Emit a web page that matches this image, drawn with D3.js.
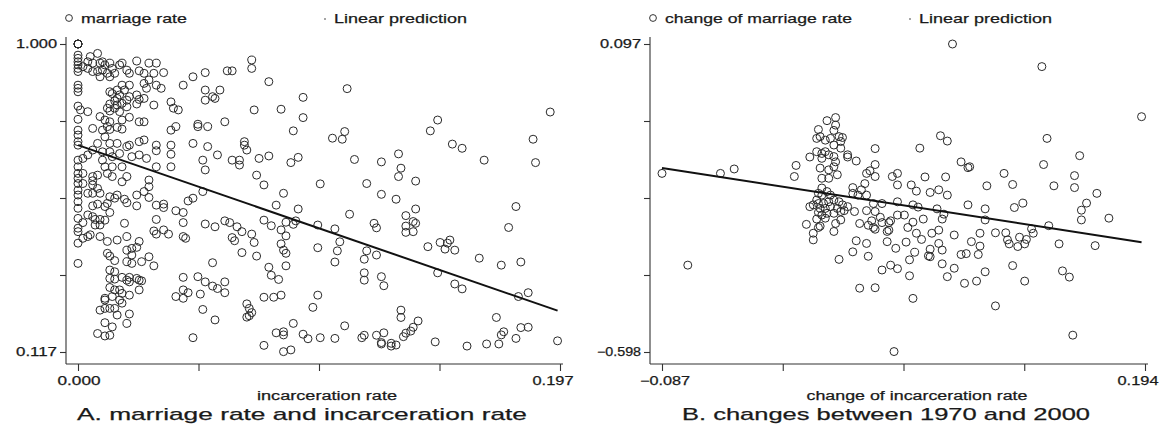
<!DOCTYPE html>
<html>
<head>
<meta charset="utf-8">
<script src="https://cdn.jsdelivr.net/npm/d3@7"></script>
<style>
  body { margin: 0; background: #fff; }
  text { font-family: "Liberation Sans", Arial, sans-serif; fill: #1a1a1a; }
</style>
</head>
<body>
<svg width="1164" height="424"></svg>
<script>
// ---- data ----
// panel A: incarceration rate (x) vs marriage rate (y)
const domainA = { x: [0, 0.197], y: [0.117, 1.000] };
const fitA = { intercept: 0.710, slope: -2.42 };
const pointsA = [
  [0,1],[0,1],[0,1],[0,1],
  [0,0.968],[0,0.959],[0,0.949],[0,0.940],[0,0.930],[0,0.921],[0,0.882],[0,0.873],[0,0.863],[0,0.822],[0,0.784],[0,0.753],[0,0.739],[0,0.720],[0,0.710],[0,0.667],[0,0.648],[0,0.629],[0,0.615],[0,0.600],[0,0.581],[0,0.567],[0,0.548],[0,0.529],[0,0.500],[0,0.472],[0,0.462],[0,0.429],[0,0.371],
  [0.002,0.935],[0.004,0.949],[0.005,0.964],[0.008,0.973],[0.006,0.945],[0.009,0.945],[0.010,0.949],[0.011,0.940],[0.013,0.945],[0.014,0.930],[0.010,0.925],[0.008,0.921],[0.006,0.921],[0.004,0.930],[0.009,0.906],[0.012,0.916],[0.013,0.906],[0.015,0.916],[0.017,0.940],[0.018,0.945],[0.020,0.925],[0.021,0.916],[0.024,0.951],[0.027,0.916],[0.025,0.923],[0.029,0.945],[0.032,0.945],[0.031,0.916],[0.035,0.918],[0.029,0.897],[0.027,0.887],[0.032,0.882],[0.028,0.873],[0.034,0.873],[0.021,0.882],[0.019,0.868],[0.018,0.882],[0.016,0.868],[0.014,0.858],[0.013,0.863],[0.017,0.854],[0.016,0.844],[0.015,0.837],[0.013,0.828],[0.012,0.816],[0.013,0.808],[0.015,0.816],[0.016,0.825],[0.018,0.830],[0.020,0.839],[0.021,0.849],[0.024,0.854],[0.025,0.841],[0.024,0.828],[0.020,0.820],[0.017,0.806],[0.009,0.792],[0.011,0.782],[0.013,0.777],[0.012,0.763],[0.010,0.753],[0.013,0.755],[0.016,0.761],[0.018,0.756],[0.018,0.782],[0.021,0.790],[0.025,0.777],[0.027,0.777],[0.031,0.825],[0.027,0.844],[0.006,0.758],[0.004,0.806],[0.001,0.811],[0.011,0.734],[0.008,0.715],[0.013,0.715],[0.016,0.715],[0.020,0.706],[0.021,0.710],[0.025,0.720],[0.027,0.725],[0.032,0.710],[0.032,0.694],[0.028,0.672],[0.025,0.682],[0.022,0.677],[0.017,0.686],[0.014,0.677],[0.013,0.691],[0.010,0.691],[0.006,0.696],[0.004,0.682],[0.002,0.672],[0.010,0.667],[0.011,0.648],[0.014,0.648],[0.018,0.648],[0.020,0.620],[0.018,0.605],[0.014,0.620],[0.012,0.629],[0.008,0.624],[0.006,0.620],[0.006,0.608],[0.006,0.596],[0.008,0.586],[0.009,0.572],[0.002,0.629],[0.002,0.600],[0.004,0.572],[0.029,0.610],[0.029,0.591],[0.027,0.577],[0.024,0.567],[0.016,0.567],[0.013,0.562],
  [0.038,0.834],[0.039,0.816],[0.041,0.811],[0.038,0.710],[0.038,0.684],[0.038,0.648],[0.032,0.648],[0.047,0.906],[0.052,0.918],[0.061,0.923],[0.063,0.923],[0.071,0.954],[0.071,0.930],[0.043,0.882],[0.052,0.868],[0.052,0.839],[0.055,0.849],[0.056,0.844],[0.058,0.868],[0.040,0.763],[0.047,0.715],[0.049,0.763],[0.049,0.770],[0.053,0.763],[0.053,0.706],[0.057,0.682],[0.060,0.777],[0.051,0.667],[0.052,0.639],[0.063,0.667],[0.066,0.667],[0.066,0.653],[0.068,0.720],[0.068,0.710],[0.069,0.696],[0.072,0.811],[0.074,0.672],[0.073,0.624],[0.051,0.577],[0.047,0.558],[0.038,0.753],
  [0.006,0.572],[0.015,0.558],[0.019,0.555],[0.020,0.545],[0.024,0.536],[0.029,0.560],[0.032,0.538],[0.035,0.541],[0.035,0.531],[0.040,0.522],[0.043,0.517],[0.043,0.488],[0.045,0.550],
  [0.006,0.536],[0.008,0.541],[0.012,0.543],[0.011,0.534],[0.013,0.517],[0.004,0.510],[0.002,0.488],[0.006,0.505],[0.007,0.497],[0.009,0.497],[0.011,0.495],[0.007,0.481],[0.009,0.481],[0.004,0.448],[0.005,0.453],[0.002,0.443],[0.009,0.448],[0.012,0.434],[0.016,0.438],[0.020,0.448],[0.025,0.434],[0.019,0.486],[0.032,0.497],[0.031,0.464],[0.032,0.455],[0.035,0.467],[0.037,0.455],[0.043,0.448],[0.044,0.443],[0.052,0.484],[0.056,0.476],[0.060,0.493],[0.062,0.488],[0.065,0.476],[0.067,0.462],[0.063,0.445],[0.064,0.436],[0.071,0.455],[0.072,0.431],[0.067,0.402],[0.073,0.392],
  [0.012,0.400],[0.013,0.392],[0.015,0.379],[0.020,0.409],[0.022,0.414],[0.024,0.417],[0.022,0.395],[0.020,0.376],[0.022,0.371],[0.026,0.376],[0.029,0.390],[0.031,0.364],
  [0.013,0.352],[0.015,0.347],[0.013,0.328],[0.015,0.326],[0.018,0.331],[0.020,0.323],[0.021,0.331],[0.021,0.318],[0.025,0.323],[0.026,0.321],[0.024,0.328],[0.013,0.302],[0.015,0.295],[0.017,0.295],[0.018,0.285],[0.025,0.295],[0.021,0.280],[0.011,0.271],[0.011,0.266],[0.014,0.276],[0.017,0.266],[0.018,0.257],[0.009,0.237],[0.011,0.242],[0.013,0.242],[0.015,0.242],[0.016,0.223],[0.021,0.226],[0.011,0.201],[0.014,0.189],[0.020,0.199],[0.008,0.170],[0.011,0.163],[0.013,0.165],
  [0.043,0.331],[0.049,0.333],[0.052,0.318],[0.055,0.306],[0.057,0.299],[0.060,0.318],[0.060,0.287],[0.043,0.295],[0.040,0.276],[0.043,0.271],[0.045,0.287],[0.050,0.283],[0.055,0.373],[0.051,0.239],[0.056,0.209],[0.047,0.158],
  [0.069,0.255],[0.070,0.242],[0.071,0.230],[0.070,0.221],[0.069,0.217],
  [0.078,0.892],[0.110,0.872],[0.092,0.847],[0.083,0.813],[0.092,0.789],[0.088,0.751],[0.104,0.730],[0.109,0.749],[0.108,0.727],[0.144,0.751],[0.147,0.782],[0.153,0.713],[0.157,0.701],[0.166,0.667],[0.186,0.727],[0.187,0.660],[0.193,0.805],[0.078,0.679],[0.087,0.660],[0.090,0.675],[0.076,0.596],[0.084,0.572],[0.099,0.599],[0.113,0.669],[0.118,0.600],[0.124,0.662],[0.124,0.569],[0.130,0.555],[0.131,0.685],[0.132,0.644],[0.131,0.620],[0.138,0.607],
  [0.081,0.538],[0.090,0.527],[0.111,0.512],[0.076,0.495],[0.079,0.479],[0.083,0.467],[0.085,0.489],[0.088,0.483],[0.089,0.493],[0.085,0.450],[0.083,0.427],[0.084,0.409],[0.085,0.400],[0.078,0.360],[0.079,0.337],[0.082,0.325],[0.085,0.364],[0.098,0.481],[0.105,0.470],[0.107,0.433],[0.106,0.407],[0.098,0.416],[0.105,0.375],[0.121,0.486],[0.122,0.473],[0.134,0.508],[0.138,0.527],[0.137,0.491],[0.138,0.486],[0.134,0.478],[0.134,0.460],[0.137,0.462],[0.118,0.407],[0.117,0.383],[0.122,0.395],[0.117,0.344],[0.117,0.323],[0.124,0.333],[0.125,0.307],[0.143,0.419],[0.148,0.431],[0.150,0.412],[0.151,0.429],[0.152,0.438],[0.154,0.409],[0.147,0.344],[0.154,0.312],[0.157,0.298],[0.164,0.386],[0.173,0.366],[0.181,0.375],[0.176,0.474],[0.179,0.534],[0.184,0.287],[0.180,0.276],[0.076,0.274],[0.080,0.274],[0.083,0.280],[0.098,0.280],[0.096,0.245],
  [0.076,0.136],[0.081,0.172],[0.084,0.175],[0.084,0.166],[0.088,0.199],[0.084,0.118],[0.087,0.123],[0.092,0.168],[0.094,0.155],[0.099,0.158],[0.105,0.156],[0.109,0.192],[0.116,0.158],[0.117,0.165],[0.122,0.165],[0.125,0.172],[0.124,0.144],[0.124,0.140],[0.128,0.142],[0.128,0.134],[0.130,0.137],[0.132,0.237],[0.132,0.216],[0.133,0.161],[0.134,0.171],[0.136,0.177],[0.137,0.188],[0.139,0.206],[0.146,0.146],[0.159,0.134],[0.167,0.140],[0.171,0.216],[0.172,0.140],[0.173,0.166],[0.174,0.175],[0.179,0.156],[0.181,0.187],[0.184,0.188],[0.196,0.149]
];

// panel B: change of incarceration rate (x) vs change of marriage rate (y)
const domainB = { x: [-0.087, 0.194], y: [-0.598, 0.097] };
const fitB = { intercept: -0.235, slope: -0.60 };
const pointsB = [
  [-0.087,-0.195],[-0.053,-0.195],[-0.045,-0.185],[-0.009,-0.177],[-0.010,-0.202],[0.009,-0.076],[0.014,-0.069],[0.014,-0.086],[0.004,-0.096],[0.013,-0.098],[0.003,-0.116],[0.005,-0.112],[0.008,-0.120],[0.011,-0.116],[0.016,-0.112],[0.018,-0.114],[0.017,-0.123],[0.013,-0.131],[0.017,-0.138],[0.003,-0.146],[0.006,-0.150],[0.008,-0.146],[0.010,-0.153],[0.013,-0.157],[0.006,-0.161],[-0.001,-0.158],[0.014,-0.169],[0.013,-0.180],[0.005,-0.183],[0.010,-0.187],[0.015,-0.198],[0.006,-0.206],[0.010,-0.206],[0.006,-0.228],[0.021,-0.153],[0.021,-0.158],[0.026,-0.167],[0.037,-0.139],[0.037,-0.175],[0.034,-0.189],[0.032,-0.195],[0.037,-0.202],[0.031,-0.218],[0.024,-0.227],[0.029,-0.232],[0.047,-0.202],[0.050,-0.195],[0.050,-0.221],
  [-0.072,-0.402],[0.004,-0.240],[0.006,-0.244],[0.009,-0.236],[0.011,-0.244],[0.003,-0.255],[-0.001,-0.270],[0.001,-0.266],[0.004,-0.263],[0.007,-0.263],[0.010,-0.259],[0.013,-0.255],[0.016,-0.259],[0.005,-0.274],[0.008,-0.274],[0.011,-0.270],[0.015,-0.274],[0.018,-0.266],[0.021,-0.270],[0.019,-0.279],[0.004,-0.283],[0.006,-0.289],[0.009,-0.285],[0.013,-0.285],[0.017,-0.281],[0.003,-0.298],[0.008,-0.296],[0.017,-0.300],[0.014,-0.308],[-0.003,-0.310],[0.004,-0.317],[0.005,-0.314],[0.001,-0.330],[0.013,-0.326],[0.001,-0.345],[0.025,-0.281],[0.024,-0.240],[0.027,-0.244],[0.032,-0.244],[0.032,-0.279],[0.036,-0.263],[0.037,-0.281],[0.041,-0.263],[0.028,-0.308],[0.033,-0.312],[0.035,-0.302],[0.036,-0.317],[0.037,-0.321],[0.040,-0.294],[0.041,-0.306],[0.045,-0.306],[0.046,-0.302],[0.044,-0.326],[0.045,-0.323],[0.050,-0.289],[0.050,-0.259],[0.026,-0.347],[0.032,-0.353],[0.024,-0.372],[0.033,-0.382],[0.016,-0.389],[0.044,-0.349],[0.049,-0.364],[0.046,-0.402],[0.041,-0.413],[0.050,-0.410],[0.028,-0.454],[0.037,-0.453],[0.048,-0.597],
  [0.082,0.097],[0.134,0.046],[0.192,-0.067],[0.075,-0.110],[0.079,-0.122],[0.063,-0.138],[0.137,-0.116],[0.156,-0.155],[0.087,-0.169],[0.091,-0.182],[0.092,-0.180],[0.135,-0.175],[0.112,-0.195],[0.117,-0.220],[0.102,-0.223],[0.141,-0.223],[0.153,-0.200],[0.153,-0.227],[0.166,-0.240],[0.058,-0.221],[0.061,-0.235],[0.066,-0.203],[0.078,-0.203],[0.069,-0.238],[0.074,-0.232],[0.079,-0.244],
  [0.059,-0.266],[0.062,-0.271],[0.073,-0.275],[0.077,-0.287],[0.076,-0.298],[0.091,-0.266],[0.101,-0.275],[0.101,-0.300],[0.118,-0.272],[0.123,-0.262],[0.138,-0.313],[0.157,-0.278],[0.157,-0.300],[0.160,-0.262],[0.173,-0.296],[0.165,-0.358],[0.144,-0.354],[0.054,-0.289],[0.056,-0.317],[0.059,-0.305],[0.061,-0.330],[0.065,-0.298],[0.070,-0.330],[0.074,-0.323],[0.064,-0.344],[0.055,-0.350],[0.060,-0.373],[0.069,-0.366],[0.068,-0.381],[0.069,-0.383],[0.074,-0.353],[0.076,-0.368],[0.083,-0.334],[0.093,-0.349],[0.098,-0.359],[0.098,-0.330],[0.097,-0.378],[0.087,-0.378],[0.090,-0.376],[0.076,-0.399],[0.057,-0.390],[0.057,-0.426],[0.079,-0.428],[0.083,-0.409],[0.089,-0.443],[0.096,-0.438],[0.101,-0.417],[0.107,-0.329],[0.113,-0.329],[0.114,-0.345],[0.115,-0.354],[0.120,-0.360],[0.121,-0.339],[0.124,-0.354],[0.125,-0.344],[0.128,-0.320],[0.129,-0.330],[0.117,-0.403],[0.124,-0.438],[0.146,-0.415],[0.150,-0.429],[0.059,-0.477],[0.107,-0.494],[0.152,-0.560]
];

const legendLabels = [["marriage rate", "Linear prediction"], ["change of marriage rate", "Linear prediction"]];
const axisTitles = ["incarceration rate", "change of incarceration rate"];
const panelTitles = ["A. marriage rate and incarceration rate", "B. changes between 1970 and 2000"];

// ---- drawing ----
const svg = d3.select("svg");
const fmt = d3.format(".3f");

// stretched text helper: glyphs in the picture are wide
function label(g, str, x, y, size, width, anchor) {
  return g.append("text")
    .attr("x", x).attr("y", y)
    .attr("font-size", size)
    .attr("text-anchor", anchor || "start")
    .attr("textLength", width)
    .attr("lengthAdjust", "spacingAndGlyphs")
    .attr("stroke", "#1a1a1a").attr("stroke-width", 0.25)
    .text(str);
}

function drawPanel(cfg) {
  const g = svg.append("g");
  const x = d3.scaleLinear().domain(cfg.domain.x).range([cfg.left + 12, cfg.right - 3]);
  const y = d3.scaleLinear().domain(cfg.domain.y).range([352, 44]);
  const ticks = dom => d3.range(5).map(i => dom[0] + i * (dom[1] - dom[0]) / 4);

  // axis lines
  g.append("line").attr("x1", cfg.left).attr("x2", cfg.left).attr("y1", 37).attr("y2", 364)
    .attr("stroke", "#333").attr("stroke-width", 1.1);
  g.append("line").attr("x1", cfg.left).attr("x2", cfg.right).attr("y1", 364).attr("y2", 364)
    .attr("stroke", "#333").attr("stroke-width", 1.1);

  const xAxis = g.append("g").attr("transform", `translate(0,364)`)
    .call(d3.axisBottom(x).tickValues(ticks(cfg.domain.x)).tickSize(7).tickFormat(""));
  const yAxis = g.append("g").attr("transform", `translate(${cfg.left},0)`)
    .call(d3.axisLeft(y).tickValues(ticks(cfg.domain.y)).tickSize(6).tickFormat(""));
  [xAxis, yAxis].forEach(a => {
    a.select(".domain").remove();
    a.selectAll("line").attr("stroke", "#333").attr("stroke-width", 1.1);
  });

  // end tick labels only
  const xd = cfg.domain.x, yd = cfg.domain.y;
  label(g, fmt(xd[0]), x(xd[0]) + (xd[0] < 0 ? 3 : 1), 385, 12, xd[0] < 0 ? 50 : 43, "middle");
  label(g, fmt(xd[1]), x(xd[1]) - 7, 385, 12, 41, "middle");
  label(g, fmt(yd[1]), cfg.left - 9, y(yd[1]) + 4, 12, 41, "end");
  label(g, fmt(yd[0]), cfg.left - 9, y(yd[0]) + 4, 12, yd[0] < 0 ? 44 : 41, "end");

  // scatter
  g.append("g").selectAll("circle").data(cfg.points).join("circle")
    .attr("cx", d => x(d[0])).attr("cy", d => y(d[1])).attr("r", 4)
    .attr("fill", "none").attr("stroke", "#2a2a2a").attr("stroke-width", 1);

  // fitted line over data range
  const xr = d3.extent(cfg.points, d => d[0]);
  const line = d3.line().x(d => x(d)).y(d => y(cfg.fit.intercept + cfg.fit.slope * d));
  g.append("path").attr("d", line(xr)).attr("fill", "none")
    .attr("stroke", "#111").attr("stroke-width", 2);

  // legend
  g.append("circle").attr("cx", cfg.left + 3).attr("cy", 18).attr("r", 3.4)
    .attr("fill", "none").attr("stroke", "#333").attr("stroke-width", 1);
  label(g, cfg.legend[0], cfg.left + 15, 23, 13.5, cfg.legendW[0]);
  g.append("circle").attr("cx", cfg.left + cfg.legendDot).attr("cy", 19).attr("r", 0.8).attr("fill", "#333");
  label(g, cfg.legend[1], cfg.left + cfg.legendDot + 9, 23, 13.5, 133);

  // titles
  label(g, cfg.axisTitle, cfg.axisTitleX, 400, 12.5, cfg.axisTitleW, "middle");
  label(g, cfg.title, cfg.titleX, 420, 17, cfg.titleW, "middle");
}

drawPanel({
  left: 66, right: 563, domain: domainA, points: pointsA, fit: fitA,
  legend: legendLabels[0], legendW: [106], legendDot: 259,
  axisTitle: axisTitles[0], axisTitleX: 327, axisTitleW: 140,
  title: panelTitles[0], titleX: 302, titleW: 450
});
drawPanel({
  left: 650, right: 1148, domain: domainB, points: pointsB, fit: fitB,
  legend: legendLabels[1], legendW: [187], legendDot: 260,
  axisTitle: axisTitles[1], axisTitleX: 917, axisTitleW: 221,
  title: panelTitles[1], titleX: 886, titleW: 408
});
</script>
</body>
</html>
